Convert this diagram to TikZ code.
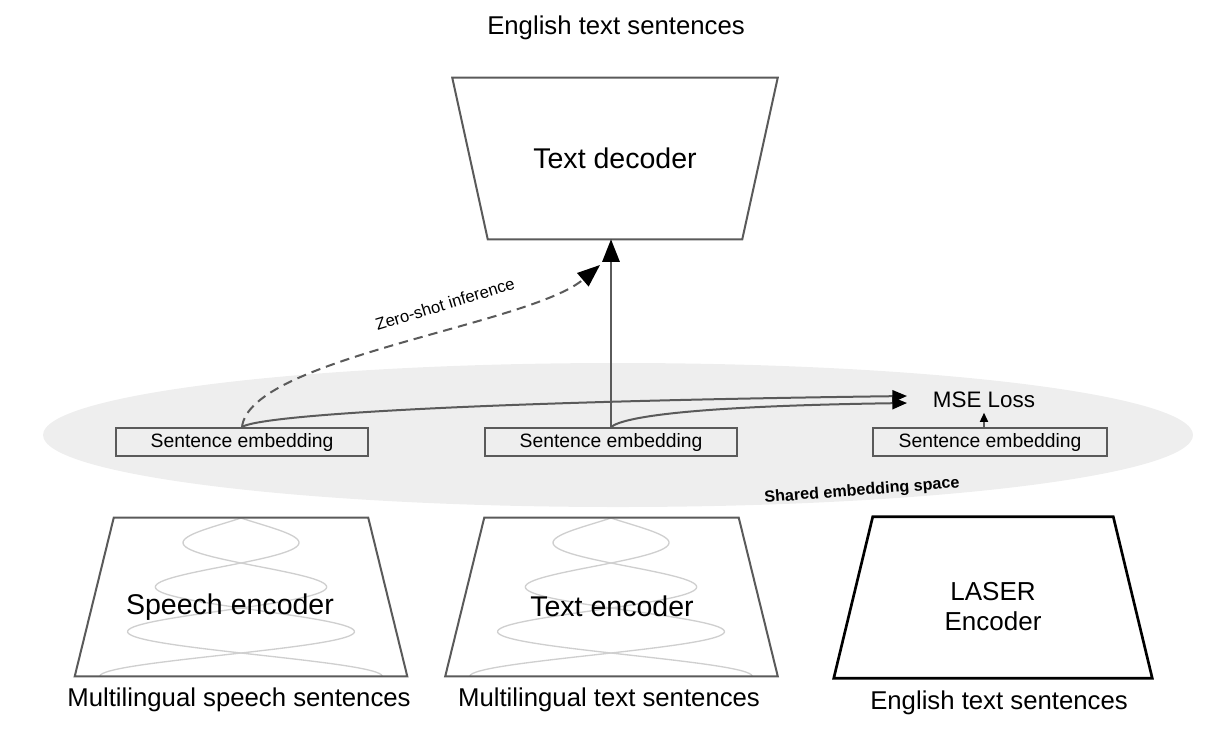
\documentclass[tikz,border=0pt]{standalone}
\usepackage{fontspec}
\setmainfont{Liberation Sans}
\usetikzlibrary{arrows.meta}
\definecolor{linegray}{HTML}{5A5A5A}
\definecolor{wavegray}{HTML}{CFCFCF}
\definecolor{spacegray}{HTML}{EEEEEE}

\begin{document}
\begin{tikzpicture}[x=0.75pt,y=-0.75pt,
	trap/.style={draw=linegray, line width=1.5pt},
	shapebox/.style={inner sep=0pt, minimum width=190.5pt, minimum height=118.5pt},
	embbox/.style={draw=linegray, line width=1.5pt, inner sep=0pt, minimum width=189pt, minimum height=21pt, font=\fontsize{14.5}{17}\selectfont},
	caption/.style={font=\fontsize{19.3}{23}\selectfont},
	bigname/.style={font=\fontsize{21.4}{25}\selectfont},
	flow/.style={draw=linegray, line width=1.5pt},
	bigtip/.style={-{Triangle[black,length=17pt,width=13pt]}},
	midtip/.style={-{Triangle[black,length=11pt,width=9pt]}},
	smalltip/.style={-{Triangle[black,length=7pt,width=6pt]}},
	wave/.style={draw=wavegray, line width=1pt}]
		\useasboundingbox (0,0) rectangle (1230,754);
		\fill[spacegray] (618,435) ellipse [x radius=431.25pt, y radius=54pt];
		\node[caption] (toptitle) at (616,28) {English text sentences};
		\node[bigname, shapebox, minimum height=120.75pt] (dec) at (615,158.5) {Text decoder};
		\draw[trap] ([xshift=-26.6pt]dec.north west) -- ([xshift=26.6pt]dec.north east) -- (dec.south east) -- (dec.south west) -- cycle;
		\node[embbox] (emb1) at (242,442) {Sentence embedding};
		\node[embbox] (emb2) at (611,442) {Sentence embedding};
		\node[embbox, minimum width=175.5pt] (emb3) at (990,442) {Sentence embedding};
		\node[font=\fontsize{16.8}{20}\selectfont] (mse) at (984,400) {MSE Loss};
		\coordinate (mse1) at (907,396);
		\coordinate (mse2) at (907,403);
		\coordinate (zerotip) at (600,265);
		\draw[flow, midtip] (emb1.north) .. controls (258,416) and (450,402) .. (mse1);
		\draw[flow, midtip] (emb2.north) .. controls (625,416) and (700,406) .. (mse2);
		\draw[flow, bigtip] (emb2.north) -- (emb2.north |- dec.south);
		\draw[flow, smalltip] (emb3.north -| mse.south) -- (mse.south);
		\draw[flow, bigtip, dash pattern=on 7pt off 4.5pt] (emb1.north) .. controls (250,358) and (530,325) .. (zerotip);
		\node[rotate=17, font=\fontsize{12.5}{15}\selectfont] (zerolabel) at (445,304) {Zero-shot inference};
		\node[rotate=4.5, font=\fontsize{12.1}{14}\selectfont\bfseries] (spacelabel) at (862,491) {Shared embedding space};
		\foreach \cx in {241,611}
			\foreach \s in {1,-1}
				\draw[wave] plot[domain=518:676, samples=120, smooth, variable=\t] ({\cx+\s*(57+0.62*(\t-540))*sin(4*(\t-518))}, {\t});
		\node[shapebox] (spenc) at (241,597) {};
		\draw[trap] (spenc.north west) -- (spenc.north east) -- ([xshift=29.25pt]spenc.south east) -- ([xshift=-29.25pt]spenc.south west) -- cycle;
		\node[bigname] (spname) at (230,607) {Speech encoder};
		\node[caption] (spcap) at (239,700) {Multilingual speech sentences};
		\node[shapebox] (txenc) at (611.5,597) {};
		\draw[trap] (txenc.north west) -- (txenc.north east) -- ([xshift=29.25pt]txenc.south east) -- ([xshift=-29.25pt]txenc.south west) -- cycle;
		\node[bigname] (txname) at (612,606) {Text encoder};
		\node[caption] (txcap) at (609,700) {Multilingual text sentences};
		\node[shapebox, minimum width=180pt, minimum height=120.75pt] (laser) at (993,597.5) {};
		\draw[line width=2pt] (laser.north west) -- (laser.north east) -- ([xshift=29.25pt]laser.south east) -- ([xshift=-29.25pt]laser.south west) -- cycle;
		\node[caption, align=center, font=\fontsize{19.5}{22.5}\selectfont] (lasername) at (993,607) {LASER\\Encoder};
		\node[caption] (lasercap) at (999,703) {English text sentences};
\end{tikzpicture}
\end{document}
